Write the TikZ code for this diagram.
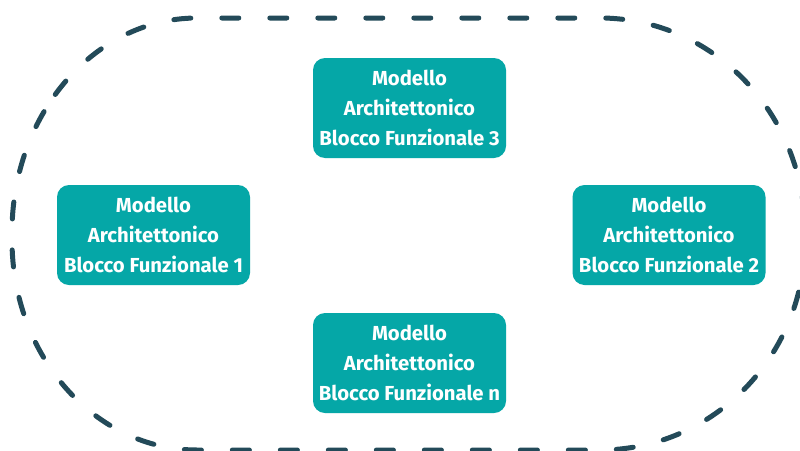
\documentclass[tikz,border=0pt]{standalone}
\usepackage{fontspec}
\setmainfont{Fira Sans}
\definecolor{boxteal}{HTML}{05A7A7}
\definecolor{dashslate}{HTML}{234A59}
\begin{document}
\begin{tikzpicture}[x=1pt,y=-1pt,
  block/.style={fill=boxteal, rounded corners=12pt, minimum width=193pt, minimum height=100pt,
    text=white, align=center, inner sep=0pt,
    font=\fontsize{20.3}{30}\selectfont\bfseries},
  boundary/.style={draw=dashslate, line width=5pt, line cap=round, dash pattern=on 17pt off 31pt}]
\useasboundingbox (0,0) rectangle (800,450);
\fill[white] (0,0) rectangle (800,450);
\draw[boundary] (197,232) ++(220:185 and 214)
  arc[start angle=220, end angle=270, x radius=185, y radius=214]
  -- (600,18)
  arc[start angle=270, end angle=360, x radius=205, y radius=214]
  -- (805,240)
  arc[start angle=0, end angle=90, x radius=205, y radius=210]
  -- (197,450)
  arc[start angle=90, end angle=180, x radius=185, y radius=210]
  -- (12,232)
  arc[start angle=180, end angle=220, x radius=185, y radius=214];
\node[block] (b3) at (409.5,108) {Modello\\Architettonico\\Blocco Funzionale 3};
\node[block] (b1) at (153.5,235) {Modello\\Architettonico\\Blocco Funzionale 1};
\node[block] (b2) at (669,235) {Modello\\Architettonico\\Blocco Funzionale 2};
\node[block] (bn) at (409.5,363) {Modello\\Architettonico\\Blocco Funzionale n};
\end{tikzpicture}
\end{document}
